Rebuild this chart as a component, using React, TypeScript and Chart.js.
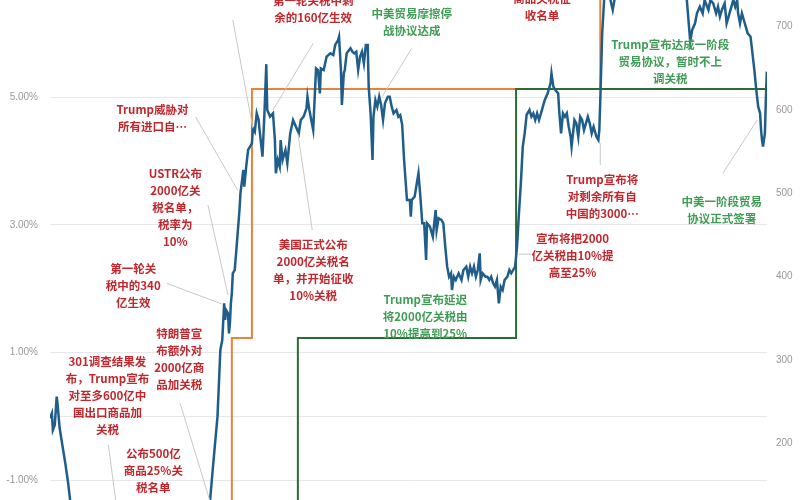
import React, { useEffect, useRef } from "react";
import Chart from "chart.js/auto";

// Calendar days since 2018-01-02 for each observation of the index line
const DAYS = [
  0, 2, 3, 5, 7, 8, 10, 14, 16, 19,
  21, 31, 52, 84, 115, 146, 162, 167, 170, 175,
  178, 180, 182, 183, 184, 186, 187, 188, 189, 190,
  191, 193, 195, 198, 199, 202, 203, 205, 207, 209,
  211, 212, 214, 216, 218, 219, 222, 224, 226, 227,
  230, 233, 235, 236, 238, 240, 241, 243, 246, 248,
  251, 254, 257, 260, 262, 265, 268, 269, 271, 273,
  275, 278, 280, 282, 283, 286, 289, 293, 296, 298,
  301, 302, 304, 305, 307, 308, 310, 314, 316, 318,
  320, 322, 324, 326, 328, 330, 332, 333, 335, 337,
  338, 340, 342, 344, 346, 348, 350, 353, 355, 357,
  359, 362, 364, 366, 368, 370, 373, 376, 377, 378,
  381, 385, 387, 389, 391, 393, 394, 397, 399, 400,
  403, 404, 406, 409, 411, 413, 415, 417, 419, 420,
  422, 424, 427, 430, 432, 435, 437, 439, 441, 443,
  445, 447, 449, 450, 452, 455, 457, 459, 461, 463,
  465, 467, 469, 471, 473, 475, 478, 480, 482, 484,
  486, 488, 490, 492, 494, 496, 498, 501, 503, 505,
  507, 509, 511, 513, 515, 517, 520, 523, 524, 526,
  528, 531, 532, 534, 536, 538, 540, 542, 544, 545,
  548, 550, 552, 554, 556, 558, 560, 562, 564, 566,
  568, 571, 573, 574, 575, 577, 579, 581, 585, 588,
  591, 601, 617, 637, 653, 665, 669, 671, 674, 676,
  679, 682, 684, 688, 690, 693, 696, 698, 700, 702,
  705, 707, 710, 712, 714, 716, 718, 719, 721, 723,
  725, 727, 729, 732, 734, 736, 738, 740, 742, 743,
  744, 745, 746, 747, 748, 749,
];

// Index level (right axis)
const INDEX_VALUES = [
  230, 236, 216, 222, 256, 246, 219, 190, 176, 152,
  132, 100, 80, 60, 70, 85, 115, 128, 168, 232,
  312, 324, 368, 348, 360, 356, 332, 344, 368, 380,
  404, 408, 436, 480, 500, 528, 508, 532, 552, 556,
  560, 578, 574, 596, 588, 576, 544, 594, 655, 600,
  592, 596, 564, 524, 540, 532, 564, 540, 552, 536,
  572, 588, 580, 572, 588, 592, 602, 616, 600, 588,
  576, 650, 648, 620, 650, 648, 664, 668, 666, 678,
  684, 688, 648, 606, 644, 648, 668, 674, 670, 668,
  670, 648, 664, 670, 656, 678, 678, 628, 596, 540,
  592, 612, 604, 616, 606, 588, 608, 616, 616, 604,
  596, 600, 592, 594, 582, 540, 492, 492, 472, 492,
  496, 524, 496, 464, 464, 420, 464, 460, 452, 448,
  480, 456, 470, 468, 464, 436, 412, 400, 404, 384,
  400, 396, 404, 396, 408, 412, 400, 412, 404, 412,
  400, 408, 428, 396, 404, 400, 400, 396, 400, 392,
  388, 396, 368, 388, 384, 396, 400, 408, 404, 408,
  412, 436, 476, 512, 556, 572, 594, 600, 592, 596,
  588, 596, 588, 596, 604, 612, 620, 632, 644, 628,
  624, 620, 600, 572, 596, 592, 596, 580, 568, 556,
  588, 584, 568, 592, 588, 576, 584, 592, 584, 572,
  580, 568, 564, 576, 612, 692, 732, 745, 735, 720,
  740, 760, 772, 765, 750, 738, 682, 696, 704, 716,
  724, 716, 732, 720, 732, 728, 716, 724, 712, 720,
  728, 704, 716, 724, 732, 724, 732, 716, 704, 716,
  708, 700, 692, 688, 668, 648, 624, 604, 596, 576,
  564, 556, 564, 572, 612, 646,
];

// Tariff step series (hidden axis, %)
const ORANGE_DAYS = [0, 190, 211, 575, 749];
const ORANGE_RATE = [0, 10, 25, 35, 35];
const GREEN_DAYS = [0, 259, 487, 749];
const GREEN_RATE = [0, 10, 25, 25];

const LEFT_TICKS = [-1, 0, 1, 3, 5];
const RIGHT_TICKS = [200, 300, 400, 500, 600, 700];

const RED = "#c1272d";
const GRN = "#3f9c55";

type Note = {
  lines: string[];
  color: string;
  at?: [number, number];
  leader?: [[number, number], [number, number]];
};

// Annotation anchors in (day, index value) coordinates
const NOTES: Note[] = [
  { lines: ["Trump威胁对", "所有进口自…"], color: RED, at: [107, 600], leader: [[152, 592], [196, 504]] },
  { lines: ["USTR公布", "2000亿关", "税名单，", "税率为", "10%"], color: RED, at: [131, 524], leader: [[165, 486], [186, 378]] },
  { lines: ["第一轮关", "税中的340", "亿生效"], color: RED, at: [87, 410], leader: [[122, 392], [180, 367]] },
  { lines: ["特朗普宣", "布额外对", "2000亿商", "品加关税"], color: RED, at: [135, 332], leader: [[136, 248], [170, 120]] },
  { lines: ["301调查结果发", "布，Trump宣布", "对至多600亿中", "国出口商品加", "关税"], color: RED, at: [60, 298], leader: [[61, 198], [70, 120]] },
  { lines: ["公布500亿", "商品25%关", "税名单"], color: RED, at: [108, 188] },
  { lines: ["第一轮关税中剩", "余的160亿生效"], color: RED, at: [275, 731], leader: [[275, 680], [233, 600]] },
  { lines: [], color: RED, leader: [[191, 708], [212, 578]] },
  { lines: ["美国正式公布", "2000亿关税名", "单，并开始征收", "10%关税"], color: RED, at: [275, 439], leader: [[274, 456], [259, 572]] },
  { lines: ["中美贸易摩擦停", "战协议达成"], color: GRN, at: [378, 716], leader: [[378, 674], [347, 616]] },
  { lines: ["Trump宣布延迟", "将2000亿关税由", "10%提高到25%"], color: GRN, at: [392, 372] },
  { lines: ["宣布将把2000", "亿关税由10%提", "高至25%"], color: RED, at: [546, 446], leader: [[503, 427], [490, 427]] },
  { lines: ["Trump宣布将", "对剩余所有自", "中国的3000…"], color: RED, at: [577, 516], leader: [[575, 534], [575, 560]] },
  { lines: ["商品关税征", "收名单"], color: RED, at: [514, 734] },
  { lines: ["Trump宣布达成一阶段", "贸易协议，暂时不上", "调关税"], color: GRN, at: [648, 678] },
  { lines: ["中美一阶段贸易", "协议正式签署"], color: GRN, at: [702, 490], leader: [[703, 524], [739, 588]] },
];

export default function App() {
  const ref = useRef<HTMLCanvasElement>(null);

  useEffect(() => {
    if (!ref.current) return;
    const notesPlugin = {
      id: "notes",
      afterDatasetsDraw(chart: any) {
        const ctx = chart.ctx as CanvasRenderingContext2D;
        const xs = chart.scales.x;
        const ys = chart.scales.yR;
        ctx.save();
        ctx.strokeStyle = "#c8c8c8";
        ctx.lineWidth = 1;
        for (const n of NOTES) {
          if (!n.leader) continue;
          ctx.beginPath();
          ctx.moveTo(xs.getPixelForValue(n.leader[0][0]), ys.getPixelForValue(n.leader[0][1]));
          ctx.lineTo(xs.getPixelForValue(n.leader[1][0]), ys.getPixelForValue(n.leader[1][1]));
          ctx.stroke();
        }
        ctx.font = 'bold 11.5px "Noto Sans CJK SC", "Noto Sans", sans-serif';
        ctx.textAlign = "center";
        ctx.textBaseline = "middle";
        for (const n of NOTES) {
          if (!n.at) continue;
          ctx.fillStyle = n.color;
          const cx = xs.getPixelForValue(n.at[0]);
          const cy = ys.getPixelForValue(n.at[1]);
          n.lines.forEach((t, i) => ctx.fillText(t, cx, cy + i * 17));
        }
        ctx.restore();
      },
    };

    const chart = new Chart(ref.current, {
      type: "line",
      data: {
        datasets: [
          {
            label: "指数",
            data: DAYS.map((d, i) => ({ x: d, y: INDEX_VALUES[i] })),
            yAxisID: "yR",
            borderColor: "#1f5d8a",
            borderWidth: 2.5,
            pointRadius: 0,
            tension: 0,
          },
          {
            label: "2000亿关税税率",
            data: GREEN_DAYS.map((d, i) => ({ x: d, y: GREEN_RATE[i] })),
            yAxisID: "yRate",
            stepped: true,
            borderColor: "#2c6b35",
            borderWidth: 2,
            pointRadius: 0,
          },
          {
            label: "关税税率",
            data: ORANGE_DAYS.map((d, i) => ({ x: d, y: ORANGE_RATE[i] })),
            yAxisID: "yRate",
            stepped: true,
            borderColor: "#e8823c",
            borderWidth: 2,
            pointRadius: 0,
          },
        ],
      },
      options: {
        animation: false,
        responsive: false,
        maintainAspectRatio: false,
        layout: { padding: 0 },
        plugins: { legend: { display: false }, tooltip: { enabled: false } },
        scales: {
          x: { type: "linear", display: false, min: 0, max: 749.2 },
          yL: {
            type: "linear",
            position: "left",
            min: -1.312,
            max: 6.525,
            afterBuildTicks: (s: any) => {
              s.ticks = LEFT_TICKS.map((v) => ({ value: v }));
            },
            afterFit: (s: any) => {
              s.width = 50;
              s.paddingTop = 0;
              s.paddingBottom = 0;
            },
            grid: { color: "#e8e8e8", drawTicks: false, lineWidth: 1 },
            border: { display: false },
            ticks: {
              padding: 12,
              color: "#999999",
              font: { size: 10, family: "Liberation Sans" },
              callback: (v: any) => (Number(v) === 0 ? "" : Number(v).toFixed(2) + "%"),
            },
          },
          yR: {
            type: "linear",
            position: "right",
            min: 132,
            max: 732,
            afterBuildTicks: (s: any) => {
              s.ticks = RIGHT_TICKS.map((v) => ({ value: v }));
            },
            afterFit: (s: any) => {
              s.width = 33;
              s.paddingTop = 0;
              s.paddingBottom = 0;
            },
            grid: { display: false, drawTicks: false },
            border: { display: false },
            ticks: {
              padding: 9,
              color: "#999999",
              font: { size: 10, family: "Liberation Sans" },
            },
          },
          yRate: { type: "linear", display: false, min: 0.24, max: 30.36 },
        },
      } as any,
      plugins: [notesPlugin],
    });
    return () => chart.destroy();
  }, []);

  return (
    <div
      style={{
        position: "fixed",
        left: 0,
        top: 0,
        width: 800,
        height: 500,
        background: "#fff",
        overflow: "hidden",
      }}
    >
      <canvas ref={ref} width={800} height={500} style={{ display: "block" }} />
    </div>
  );
}
